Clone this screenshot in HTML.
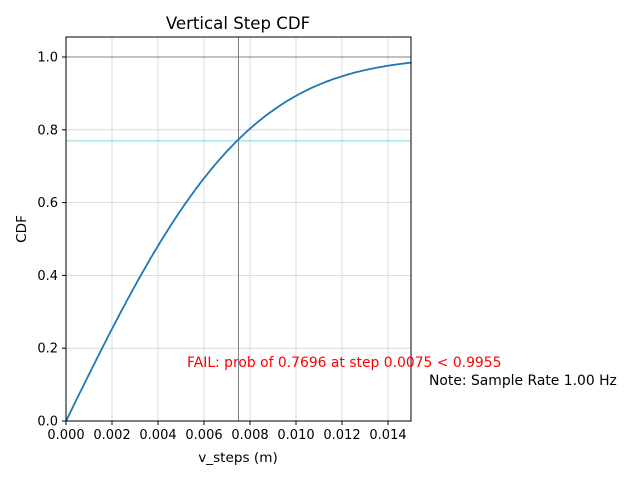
<!DOCTYPE html>
<html><head><meta charset="utf-8"><style>
body{margin:0;background:#fff;}
text{font-family:"DejaVu Sans","Liberation Sans",sans-serif;}
</style></head><body>
<svg id="s" width="640" height="480" xmlns="http://www.w3.org/2000/svg">
<rect width="640" height="480" fill="#fff"/>
<g id="grid" stroke="#d3d3d3" stroke-width="0.8"></g>
<line x1="66" y1="57" x2="411" y2="57" stroke="#808080" stroke-width="1"/>
<line x1="66" y1="140.9" x2="411" y2="140.9" stroke="#7fdcdc" stroke-width="1"/>
<line x1="238.5" y1="37" x2="238.5" y2="421" stroke="#808080" stroke-width="1"/>
<path id="curve" fill="none" stroke="#1f77b4" stroke-width="1.8"/>
<rect x="66" y="37" width="345" height="384" fill="none" stroke="#000" stroke-width="1"/>
<g id="ticks" font-size="13" fill="#000"></g>
<text x="238" y="29" font-size="16.6" text-anchor="middle">Vertical Step CDF</text>
<text x="238" y="462" font-size="13.6" text-anchor="middle">v_steps (m)</text>
<text x="26" y="229" font-size="13.6" text-anchor="middle" transform="rotate(-90 26 229)">CDF</text>
<text x="187" y="367" font-size="13.9" fill="#ff0000">FAIL: prob of 0.7696 at step 0.0075 &lt; 0.9955</text>
<text x="429" y="385" font-size="13.9">Note: Sample Rate 1.00 Hz</text>
</svg>
<script>
const X=v=>66+v/0.015*345, Y=v=>421-v*364;
const g=document.getElementById('grid'),t=document.getElementById('ticks');
let h='',tt='';
for(let i=0;i<=7;i++){const v=i*0.002,x=X(v);h+=`<line x1="${x}" y1="37" x2="${x}" y2="421"/>`;
tt+=`<line x1="${x}" y1="421" x2="${x}" y2="425" stroke="#000"/><text x="${x}" y="439" text-anchor="middle">${v.toFixed(3)}</text>`;}
for(let i=0;i<=5;i++){const v=i*0.2,y=Y(v);h+=`<line x1="66" y1="${y}" x2="411" y2="${y}"/>`;
tt+=`<line x1="62" y1="${y}" x2="66" y2="${y}" stroke="#000"/><text x="58" y="${y+4.5}" text-anchor="end">${v.toFixed(1)}</text>`;}
g.innerHTML=h;t.innerHTML=tt;
function erf(x){const t=1/(1+0.3275911*x);return 1-(((((1.061405429*t-1.453152027)*t)+1.421413741)*t-0.284496736)*t+0.254829592)*t*Math.exp(-x*x);}
let d='';const s=0.0062;
for(let i=0;i<=300;i++){const v=0.015*i/300;const f=erf(v/(s*Math.SQRT2));d+=(i?'L':'M')+X(v).toFixed(1)+' '+Y(f).toFixed(1);}
document.getElementById('curve').setAttribute('d',d);
</script>
</body></html>
